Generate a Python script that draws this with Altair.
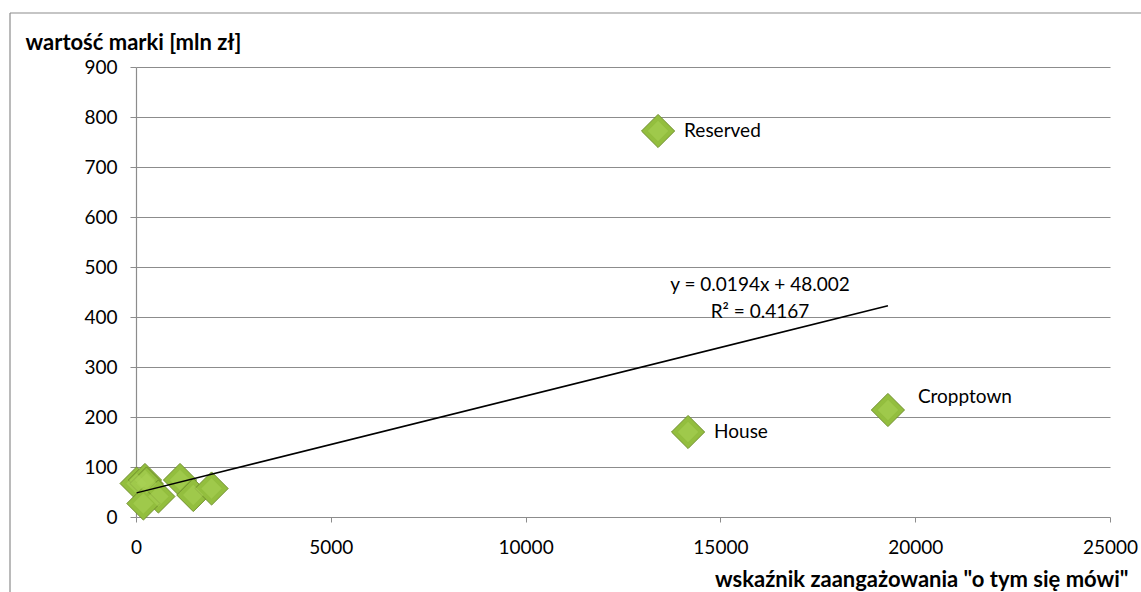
import altair as alt
import pandas as pd

# scatter data
x_vals = [15, 230, 270, 575, 190, 1130, 1470, 1940, 13400, 14170, 19300]
y_vals = [67, 74, 67, 41, 27, 74, 44, 57, 772, 170, 214]
names = ["", "", "", "", "", "", "", "", "Reserved", "House", "Cropptown"]

# trend line (from equation shown)
slope = 0.0194
intercept = 48.002
eq_lines = ["y = 0.0194x + 48.002", "R² = 0.4167"]

df = pd.DataFrame({"x": x_vals, "y": y_vals, "name": names})
xmin, xmax = min(x_vals), max(x_vals)
trend = pd.DataFrame({"x": [xmin, xmax], "y": [slope * xmin + intercept, slope * xmax + intercept]})

FONT = "Lato"
GRID = "#8c8c8c"
LBL = 19

xscale = alt.Scale(domain=[0, 25000], nice=False, zero=True)
yscale = alt.Scale(domain=[0, 900], nice=False)

base = alt.Chart(df)

points = base.mark_point(
    shape="diamond", size=1100, filled=True, fill="#93BE3E", stroke="#6F8F2B",
    strokeWidth=1, opacity=1
).encode(
    x=alt.X("x:Q", scale=xscale,
            axis=alt.Axis(values=[0, 5000, 10000, 15000, 20000, 25000], grid=False, format="d",
                          title='wskaźnik zaangażowania "o tym się mówi"',
                          titleAlign="right", titleX=992, titleY=62, titleBaseline="middle",
                          titleFontSize=22, titleFontWeight="bold", titleFont=FONT, titleColor="#000",
                          labelFont=FONT, labelFontSize=LBL, labelColor="#000", labelPadding=16,
                          domain=False, tickColor=GRID, tickSize=5, labelFlush=False)),
    y=alt.Y("y:Q", scale=yscale,
            axis=alt.Axis(values=list(range(0, 901, 100)), grid=True, gridColor=GRID, gridWidth=1.2,
                          title="wartość marki [mln zł]", titleAngle=0, titleAlign="left",
                          titleX=-111, titleY=-25, titleBaseline="middle",
                          titleFontSize=22, titleFontWeight="bold", titleFont=FONT, titleColor="#000",
                          labelFont=FONT, labelFontSize=LBL, labelColor="#000", labelPadding=13,
                          domain=True, domainColor=GRID, domainWidth=1.2,
                          tickColor=GRID, tickSize=6)),
)

highlight = base.mark_point(
    shape="diamond", size=420, filled=True, fill="#A9D155", opacity=0.55, strokeWidth=0
).encode(x=alt.X("x:Q", scale=xscale), y=alt.Y("y:Q", scale=yscale))

labels_main = base.transform_filter(
    "datum.name == 'Reserved' || datum.name == 'House'"
).mark_text(align="left", baseline="middle", dx=26, font=FONT, fontSize=LBL, color="#000").encode(
    x=alt.X("x:Q", scale=xscale), y=alt.Y("y:Q", scale=yscale), text="name:N")

labels_crop = base.transform_filter("datum.name == 'Cropptown'").mark_text(
    align="left", baseline="middle", dx=30, dy=-13, font=FONT, fontSize=LBL, color="#000").encode(
    x=alt.X("x:Q", scale=xscale), y=alt.Y("y:Q", scale=yscale), text="name:N")

line = alt.Chart(trend).mark_line(color="#000", strokeWidth=1.5).encode(
    x=alt.X("x:Q", scale=xscale), y=alt.Y("y:Q", scale=yscale))

eq1 = alt.Chart(pd.DataFrame({"t": [eq_lines[0]]})).mark_text(
    font=FONT, fontSize=LBL, color="#000", align="center", baseline="middle").encode(
    x=alt.value(624), y=alt.value(218), text="t:N")
eq2 = alt.Chart(pd.DataFrame({"t": [eq_lines[1]]})).mark_text(
    font=FONT, fontSize=LBL, color="#000", align="center", baseline="middle").encode(
    x=alt.value(624), y=alt.value(245), text="t:N")

frame_top = alt.Chart(pd.DataFrame({"a": [0]})).mark_rule(color=GRID, strokeWidth=1.2).encode(
    x=alt.value(-126), x2=alt.value(1010), y=alt.value(-54))
frame_left = alt.Chart(pd.DataFrame({"a": [0]})).mark_rule(color=GRID, strokeWidth=1.2).encode(
    x=alt.value(-126), y=alt.value(-54), y2=alt.value(80 + 450))

chart = alt.layer(frame_top, frame_left, points, highlight, line, labels_main, labels_crop, eq1, eq2).properties(
    width=974, height=450,
    padding={"left": 136, "top": 67, "right": 31, "bottom": 75},
    autosize=alt.AutoSizeParams(type="none"),
    background="white",
).configure_view(stroke=None)

chart.save("out.html", embed_options={"renderer": "svg", "actions": False})
